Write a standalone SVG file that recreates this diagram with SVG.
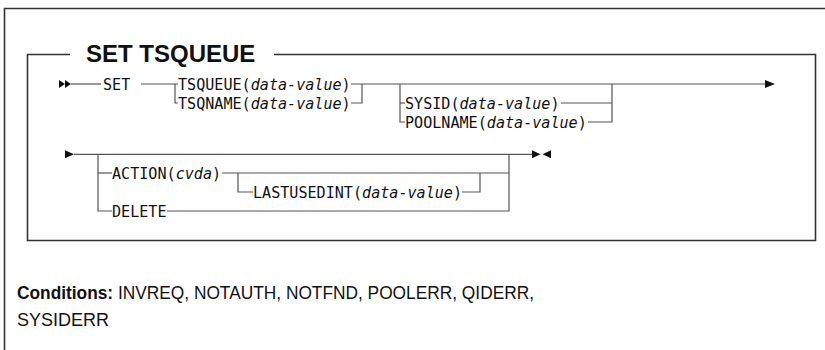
<svg xmlns="http://www.w3.org/2000/svg" width="825" height="350" viewBox="0 0 825 350">
<style>
.frame{fill:none;stroke:#333;stroke-width:1.6}
.ln{fill:none;stroke:#555;stroke-width:1.2}
.kw{font-family:"DejaVu Sans Mono","Liberation Mono",monospace;font-size:15.1px;fill:#111}
.it{font-style:italic}
.title{font-family:"Liberation Sans",Arial,sans-serif;font-size:24px;font-weight:bold;fill:#111}
.cond{font-family:"Liberation Sans",Arial,sans-serif;font-size:18px;fill:#111}
.ah{fill:#111}
</style>
<rect width="825" height="350" fill="#fff"/>
<g id="frame">
<path class="frame" d="M4.5,350 V8.5 H825"/>
<path class="frame" d="M70,54.5 H27.5 V240.5 H815.5 V54.5 H274"/>
</g>
<g id="title"><text class="title" x="86" y="62">SET TSQUEUE</text></g>
<g id="connectors">
<path class="ah" d="M59,80 L65,84 L59,88 Z M65,80 L71,84 L65,88 Z"/>
<path class="ln" d="M71,84 H101"/>
<path class="ln" d="M141,84 H178"/>
<path class="ln" d="M175,84 V103 H178"/>
<path class="ln" d="M351,84 H765"/>
<path class="ln" d="M351,103 H362 V84"/>
<path class="ln" d="M400,84 V122 H405"/>
<path class="ln" d="M400,103 H405"/>
<path class="ln" d="M561,103 H612"/>
<path class="ln" d="M588,122 H612 V84"/>
<path class="ah" d="M765,80 L775,84 L765,88 Z"/>
<path class="ah" d="M65,150.3 L74,154.3 L65,158.3 Z"/>
<path class="ln" d="M74,154.3 H532"/>
<path class="ln" d="M98,154.3 V211 H112"/>
<path class="ln" d="M98,173 H112"/>
<path class="ln" d="M222,173 H509"/>
<path class="ln" d="M238,173 V192 H253"/>
<path class="ln" d="M462,192 H480 V173"/>
<path class="ln" d="M167,211 H509 V154.3"/>
<path class="ah" d="M532,150.3 L540.5,154.3 L532,158.3 Z M551,150.3 L542.5,154.3 L551,158.3 Z"/>
</g>
<g id="n-set"><text class="kw" x="103" y="90">SET</text></g>
<g id="n-tsqueue"><text class="kw" x="178" y="90">TSQUEUE(<tspan class="it">data-value</tspan>)</text></g>
<g id="n-tsqname"><text class="kw" x="178" y="109">TSQNAME(<tspan class="it">data-value</tspan>)</text></g>
<g id="n-sysid"><text class="kw" x="405" y="109">SYSID(<tspan class="it">data-value</tspan>)</text></g>
<g id="n-poolname"><text class="kw" x="405" y="128">POOLNAME(<tspan class="it">data-value</tspan>)</text></g>
<g id="n-action"><text class="kw" x="112" y="179">ACTION(<tspan class="it">cvda</tspan>)</text></g>
<g id="n-lastusedint"><text class="kw" x="253" y="198">LASTUSEDINT(<tspan class="it">data-value</tspan>)</text></g>
<g id="n-delete"><text class="kw" x="112" y="217">DELETE</text></g>
<g id="conditions">
<text class="cond" x="17" y="299" textLength="517" lengthAdjust="spacingAndGlyphs"><tspan font-weight="bold">Conditions:</tspan> INVREQ, NOTAUTH, NOTFND, POOLERR, QIDERR,</text>
<text class="cond" x="17" y="326">SYSIDERR</text>
</g>
</svg>
